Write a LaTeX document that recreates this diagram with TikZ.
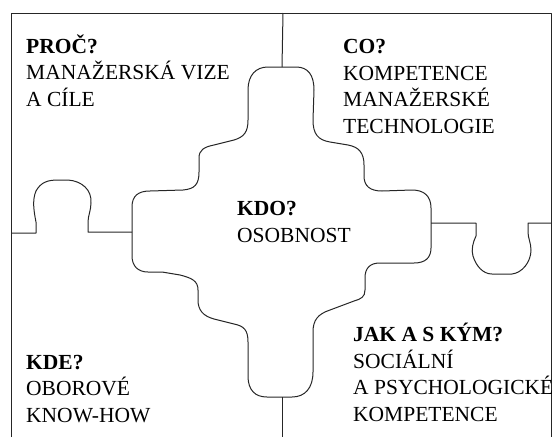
\documentclass[tikz,border=0pt]{standalone}
\usepackage{fontspec}
\setmainfont{Liberation Serif}
\begin{document}
\begin{tikzpicture}[x=1pt,y=-1pt,
  edge/.style={line width=1pt,draw=black!85,line join=round},
  label/.style={anchor=base west,inner sep=0pt,align=left,
    font=\fontsize{21.5}{26.5}\selectfont}]
\useasboundingbox (0,0) rectangle (560,437);

% outer frame (open at the bottom)
\draw[edge] (11,437) -- (11,13) -- (551,13) -- (551,437);
% straight dividers at top and bottom
\draw[edge] (283,13) -- (282,67);
\draw[edge] (282,397) -- (282,437);

% left divider with upward knob
\draw[edge] (11,233) -- (36,233) -- (36,222)
  .. controls (34,212) and (32,200) .. (36,191)
  .. controls (41,182) and (48,180) .. (58,180) -- (68,180)
  .. controls (82,181) and (92,190) .. (91,203)
  .. controls (91,210) and (88,216) .. (88,222) -- (88,232) -- (132,232);

% right divider with downward knob
\draw[edge] (431,223) -- (476,223) -- (476,236)
  .. controls (473,242) and (471,250) .. (473,256)
  .. controls (476,266) and (483,274) .. (492,274) -- (512,274)
  .. controls (522,273) and (531,262) .. (531,250)
  .. controls (531,243) and (528,238) .. (528,232) -- (528,223) -- (551,223);

% central piece
\draw[edge] (132,232) -- (132,207)
  .. controls (132,196) and (138,191) .. (150,191) -- (183,190)
  .. controls (195,189) and (199,184) .. (199,172) -- (199,158)
  .. controls (199,150) and (204,147) .. (214,145) -- (234,140)
  .. controls (244,137) and (248,132) .. (248,120) -- (248,90)
  .. controls (248,75) and (256,67) .. (268,67) -- (296,67)
  .. controls (308,67) and (314,75) .. (314,90) -- (313,120)
  .. controls (313,134) and (318,140) .. (330,142) -- (348,145)
  .. controls (359,147) and (364,153) .. (364,165) -- (364,176)
  .. controls (364,186) and (370,191) .. (382,191) -- (412,190)
  .. controls (424,190) and (431,196) .. (431,208) -- (431,248)
  .. controls (431,258) and (425,263) .. (414,263) -- (380,263)
  .. controls (370,263) and (365,268) .. (365,278) -- (365,290)
  .. controls (365,297) and (361,299) .. (354,301) -- (330,310)
  .. controls (318,314) and (313,320) .. (313,332) -- (313,372)
  .. controls (313,388) and (305,397) .. (292,397) -- (267,397)
  .. controls (255,397) and (248,390) .. (248,376) -- (248,342)
  .. controls (248,330) and (244,326) .. (234,324) -- (214,319)
  .. controls (203,316) and (198,310) .. (198,300) -- (198,290)
  .. controls (198,281) and (192,278) .. (180,275) -- (162,272) -- (148,272)
  .. controls (138,272) and (132,266) .. (132,256) -- cycle;

% texts (anchored at the baseline of their last line)
\node[label] (proc) at (26,106) {\textbf{PROČ?}\\MANAŽERSKÁ VIZE\\A CÍLE};
\node[label] (co) at (343,133) {\textbf{CO?}\\KOMPETENCE\\MANAŽERSKÉ\\TECHNOLOGIE};
\node[label] (kdo) at (237,242) {\textbf{KDO?}\\OSOBNOST};
\node[label] (kde) at (26,422) {\textbf{KDE?}\\OBOROVÉ\\KNOW-HOW};
\node[label] (jak) at (353,421) {\textbf{JAK A S KÝM?}\\SOCIÁLNÍ\\A PSYCHOLOGICKÉ\\KOMPETENCE};
\end{tikzpicture}
\end{document}
